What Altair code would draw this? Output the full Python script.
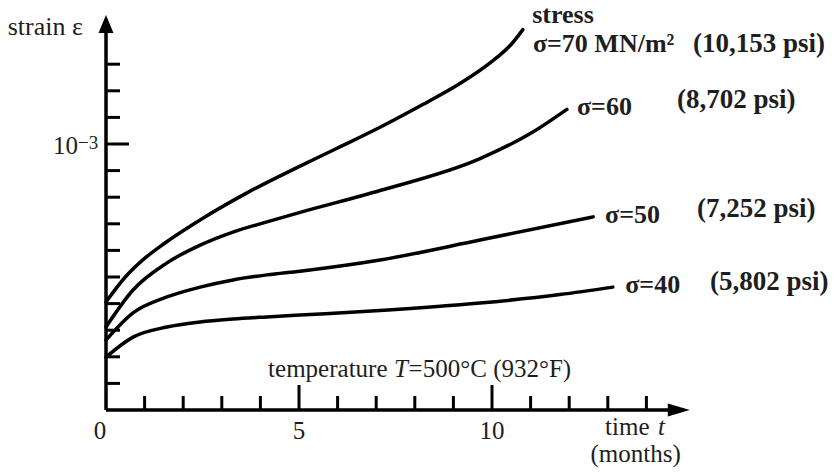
import altair as alt
import pandas as pd

# Creep curves at T = 500 °C: time in months, strain in units of 1e-4
t_70 = [0, 0.5, 1.0, 1.5, 2.5, 3.7, 5.0, 6.0, 7.1, 8.1, 9.2, 9.95, 10.5, 10.8]
s_70 = [4.06, 5.0, 5.7, 6.25, 7.2, 8.2, 9.15, 9.85, 10.63, 11.4, 12.3, 13.05, 13.75, 14.3]

t_60 = [0, 0.70, 1.58, 2.44, 3.29, 4.17, 5.03, 7.10, 9.69, 11.06, 11.94]
s_60 = [3.12, 4.51, 5.53, 6.20, 6.69, 7.07, 7.43, 8.25, 9.45, 10.45, 11.3]

t_50 = [0, 0.70, 1.58, 2.44, 3.29, 4.17, 5.03, 7.10, 9.69, 12.62]
s_50 = [2.63, 3.65, 4.25, 4.62, 4.89, 5.08, 5.22, 5.64, 6.39, 7.26]

t_40 = [0, 0.70, 1.58, 2.44, 3.29, 4.17, 5.03, 7.10, 9.69, 11.76, 13.13]
s_40 = [1.99, 2.74, 3.12, 3.31, 3.42, 3.50, 3.57, 3.74, 4.02, 4.34, 4.62]

stress_levels = [70, 60, 50, 40]

# Axis ticks
x_minor_ticks = [1, 2, 3, 4, 6, 7, 8, 9, 11, 12, 13, 14]
x_major_ticks = [5, 10]
x_tick_labels = [5, 10]
y_minor_ticks = [1, 2, 3, 4, 5, 6, 7, 8, 9, 11, 12, 13]
y_major_ticks = [10]

# Stress labels next to each curve
sig_text = ["stress", "σ=70 MN/m²", "σ=60", "σ=50", "σ=40"]
sig_t = [11.04, 11.06, 12.20, 12.93, 13.45]
sig_s = [14.55, 13.46, 11.09, 7.03, 4.40]
psi_text = ["(10,153 psi)", "(8,702 psi)", "(7,252 psi)", "(5,802 psi)"]
psi_t = [15.21, 14.79, 15.31, 15.65]
psi_s = [13.46, 11.35, 7.26, 4.51]

# Plot geometry
W, H = 731, 400
X_MAX, Y_MAX = W / 38.6, H / 26.6
X_AXIS_END, Y_AXIS_END = 14.6, 14.4
X_ARROW, Y_ARROW = 14.84, 14.51

FONT = "Liberation Serif, Times New Roman, serif"
INK = "#1e1e1e"
xs = alt.Scale(domain=[0, X_MAX], nice=False, zero=False)
ys = alt.Scale(domain=[0, Y_MAX], nice=False, zero=False)


def X(f):
    return alt.X(f, type="quantitative", scale=xs, axis=None)


def Y(f):
    return alt.Y(f, type="quantitative", scale=ys, axis=None)


curves = pd.concat([
    pd.DataFrame({"t": t, "s": s, "stress": lvl})
    for t, s, lvl in zip([t_70, t_60, t_50, t_40], [s_70, s_60, s_50, s_40], stress_levels)
])

lines = alt.Chart(curves).mark_line(
    color="black", strokeWidth=3.5, interpolate="monotone", strokeCap="round"
).encode(x=X("t"), y=Y("s"), detail="stress:N")

axes_df = pd.DataFrame({"x": [0, 0], "y": [0, 0], "x2": [0, X_AXIS_END], "y2": [Y_AXIS_END, 0]})
axes = alt.Chart(axes_df).mark_rule(color="black", strokeWidth=3.5).encode(
    x=X("x"), y=Y("y"), x2="x2", y2="y2"
)

arrow_up = alt.Chart(pd.DataFrame({"x": [0], "y": [Y_ARROW]})).mark_point(
    shape="M0,-1L0.83,1L-0.83,1Z", filled=True, color="black", opacity=1, size=324
).encode(x=X("x"), y=Y("y"))
arrow_right = alt.Chart(pd.DataFrame({"x": [X_ARROW], "y": [0]})).mark_point(
    shape="M1,0L-1,0.6L-1,-0.6Z", filled=True, color="black", opacity=1, size=484
).encode(x=X("x"), y=Y("y"))

xt_minor = alt.Chart(pd.DataFrame({"v": x_minor_ticks})).mark_rule(
    color="black", strokeWidth=3).encode(x=X("v"), y=alt.value(H), y2=alt.value(H - 14))
xt_major = alt.Chart(pd.DataFrame({"v": x_major_ticks})).mark_rule(
    color="black", strokeWidth=3).encode(x=X("v"), y=alt.value(H), y2=alt.value(H - 25))
yt_minor = alt.Chart(pd.DataFrame({"v": y_minor_ticks})).mark_rule(
    color="black", strokeWidth=3).encode(y=Y("v"), x=alt.value(0), x2=alt.value(14))
yt_major = alt.Chart(pd.DataFrame({"v": y_major_ticks})).mark_rule(
    color="black", strokeWidth=3).encode(y=Y("v"), x=alt.value(0), x2=alt.value(23))

xlabels = alt.Chart(pd.DataFrame({"v": x_tick_labels})).mark_text(
    font=FONT, fontSize=25, align="center", baseline="alphabetic", color=INK
).encode(x=X("v"), y=alt.value(H + 29), text="v:N")
# the origin label sits slightly left of the corner
xlabel0 = alt.Chart(pd.DataFrame({"v": [0]})).mark_text(
    font=FONT, fontSize=25, align="center", baseline="alphabetic", color=INK, dx=-6
).encode(x=X("v"), y=alt.value(H + 29), text="v:N")

ylabel_base = alt.Chart(pd.DataFrame({"v": [10], "txt": ["10"]})).mark_text(
    font=FONT, fontSize=25, align="right", baseline="alphabetic", dy=10, color=INK
).encode(y=Y("v"), x=alt.value(-28), text="txt:N")
ylabel_exp = alt.Chart(pd.DataFrame({"v": [10], "txt": ["−3"]})).mark_text(
    font=FONT, fontSize=19, align="left", baseline="alphabetic", dy=5, color=INK
).encode(y=Y("v"), x=alt.value(-28), text="txt:N")

# Axis titles and the temperature note (regular and italic parts)
reg_df = pd.DataFrame({
    "t": [-0.60, 4.20, 7.84, 12.93],
    "s": [14.10, 1.24, 1.24, -0.94],
    "txt": ["strain ε", "temperature", "=500°C (932°F)", "time"],
    "al": ["right", "left", "left", "left"],
})
reg_right = alt.Chart(reg_df[reg_df.al == "right"]).mark_text(
    font=FONT, fontSize=26, align="right", baseline="alphabetic", color=INK
).encode(x=X("t"), y=Y("s"), text="txt:N")
reg_left = alt.Chart(reg_df[reg_df.al == "left"]).mark_text(
    font=FONT, fontSize=25, align="left", baseline="alphabetic", color=INK
).encode(x=X("t"), y=Y("s"), text="txt:N")
months = alt.Chart(pd.DataFrame({"t": [13.72], "s": [-1.95], "txt": ["(months)"]})).mark_text(
    font=FONT, fontSize=25, align="center", baseline="alphabetic", color=INK
).encode(x=X("t"), y=Y("s"), text="txt:N")
italics = alt.Chart(pd.DataFrame({"t": [7.46, 14.30], "s": [1.24, -0.94], "txt": ["T", "t"]})).mark_text(
    font=FONT, fontSize=25, fontStyle="italic", align="left", baseline="alphabetic", color=INK
).encode(x=X("t"), y=Y("s"), text="txt:N")

sig_labels = alt.Chart(pd.DataFrame({"t": sig_t, "s": sig_s, "txt": sig_text})).mark_text(
    font=FONT, fontSize=26, fontWeight="bold", align="left", baseline="alphabetic", color=INK
).encode(x=X("t"), y=Y("s"), text="txt:N")
psi_labels = alt.Chart(pd.DataFrame({"t": psi_t, "s": psi_s, "txt": psi_text})).mark_text(
    font=FONT, fontSize=27, fontWeight="bold", align="left", baseline="alphabetic", color=INK
).encode(x=X("t"), y=Y("s"), text="txt:N")

chart = alt.layer(
    lines, axes, arrow_up, arrow_right, xt_minor, xt_major, yt_minor, yt_major,
    xlabels, xlabel0, ylabel_base, ylabel_exp, reg_right, reg_left, months, italics,
    sig_labels, psi_labels,
).properties(
    width=W, height=H,
    padding={"left": 106, "top": 10, "right": 0, "bottom": 63},
    autosize=alt.AutoSizeParams(type="none"),
    background="white",
).configure_view(stroke=None)

chart.save("out.html", embed_options={"renderer": "svg", "actions": False})
